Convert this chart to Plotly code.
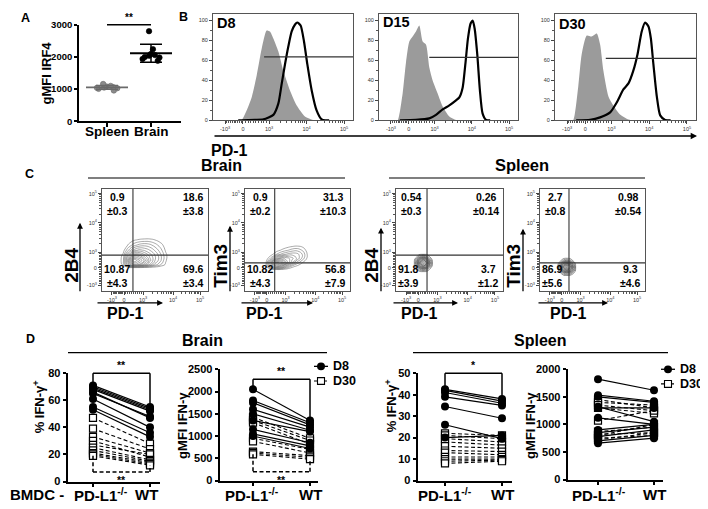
import math
import plotly.graph_objects as go

# The page body adds an 8 px margin; the figure is sized so that the
# photographed 708x509 window shows the chart in the reference's pixel frame.
W, H = 708, 509
OFF = 8
WF, HF = W - OFF, H - OFF
FONT = "Liberation Sans, Arial, Helvetica, sans-serif"

# ======================= DATA =======================
# ---- Panel A: gMFI IRF4 ----
a_groups = ["Spleen", "Brain"]
irf4_spleen = [1160, 1100, 1080, 1060, 1050, 1040, 1030, 1010, 960]
irf4_brain = [2800, 2240, 2090, 2060, 2040, 2000, 1980, 1940, 1880]
a_ticks = [0, 1000, 2000, 3000]

# ---- Panel B: PD-1 histograms (display channel 0-1000, % of max) ----
b_days = ["D8", "D15", "D30"]
flow_tick_text = ["-10<sup>3</sup>", "0", "10<sup>3</sup>", "10<sup>4</sup>", "10<sup>5</sup>"]
hist_ticks = [0, 20, 40, 60, 80, 100]

iso_d8_ch = [180, 205, 240, 276, 312, 348, 383, 407, 431, 467, 502, 550, 598, 657, 714, 740]
iso_d8_pct = [0, 0.5, 10, 23, 45, 72, 90, 89, 82, 69, 50, 30, 15, 4, 0.5, 0]
pd1_d8_ch = [180, 205, 300, 360, 431, 467, 490, 514, 538, 562, 586, 602, 626, 650, 674, 705, 740, 776, 800, 830]
pd1_d8_pct = [0, 0, 0.5, 1, 5.5, 17, 36, 56, 74, 89, 96, 98, 95, 79, 56, 30, 10, 1, 0, 0]

iso_d15_ch = [120, 136, 170, 194, 218, 242, 266, 290, 314, 338, 362, 386, 422, 458, 506, 554, 580]
iso_d15_pct = [0, 0.5, 27, 58, 79, 84, 89, 95, 79, 76, 53, 40, 27, 14, 4, 0.5, 0]
pd1_d15_ch = [150, 266, 362, 410, 458, 506, 554, 578, 602, 621, 640, 659, 674, 688, 707, 726, 745, 770, 800]
pd1_d15_pct = [0, 0.5, 2, 5.5, 11, 15, 20, 23, 33, 56, 82, 97, 100, 92, 66, 30, 7, 0.5, 0]

iso_d30_ch = [110, 130, 165, 189, 225, 260, 296, 320, 343, 379, 414, 461, 521, 560]
iso_d30_pct = [0, 0.5, 34, 66, 85, 84, 87, 76, 50, 24, 15, 6, 1, 0]
pd1_d30_ch = [150, 249, 320, 391, 438, 485, 521, 556, 585, 615, 639, 663, 680, 698, 722, 746, 781, 820]
pd1_d30_pct = [0, 0.5, 3, 8, 18, 31, 37, 50, 66, 89, 98, 94, 82, 56, 24, 5, 0.5, 0]

gate_start = [365, 362, 360]
gate_level = [63.5, 63, 62]

# ---- Panel C: contour density grids (display channels) ----
brain_2b4_x = [150, 200, 250, 300, 350, 400, 450, 500, 550, 600, 650]
brain_2b4_y = [200, 230, 260, 300, 350, 400, 450, 500, 540]
brain_2b4_z = [
    [0, 0, 0, 0, 0, 0, 0, 0, 0, 0, 0],
    [0, 0, 0.3, 0.5, 0.5, 0.4, 0.3, 0.2, 0, 0, 0],
    [0, 0.8, 4, 7, 6.5, 5, 3.5, 2.2, 1.3, 0.5, 0],
    [0, 1, 5, 9, 8, 6.5, 4.5, 3, 2, 0.7, 0],
    [0, 0.8, 3.5, 6, 6, 5, 4, 3, 2, 0.8, 0],
    [0, 0.3, 1.8, 3.2, 3.8, 3.5, 3, 2.3, 1.5, 0.5, 0],
    [0, 0, 0.7, 1.5, 2, 2.2, 2, 1.5, 0.9, 0.3, 0],
    [0, 0, 0.2, 0.5, 0.7, 0.8, 0.8, 0.6, 0.3, 0, 0],
    [0, 0, 0, 0, 0, 0, 0, 0, 0, 0, 0],
]
brain_tim3_x = [150, 200, 250, 300, 350, 400, 450, 500, 550, 600, 650]
brain_tim3_y = [180, 210, 240, 280, 320, 360, 400, 440, 480]
brain_tim3_z = [
    [0, 0, 0, 0, 0, 0, 0, 0, 0, 0, 0],
    [0, 0, 0.2, 0.4, 0.3, 0.1, 0, 0, 0, 0, 0],
    [0, 0.3, 2.5, 5, 4, 2, 0.8, 0.3, 0, 0, 0],
    [0, 0.5, 4, 8, 7.5, 5, 3, 1.5, 0.6, 0, 0],
    [0, 0.1, 1.5, 4, 5, 4.5, 3.8, 2.8, 1.5, 0.3, 0],
    [0, 0, 0.3, 1.2, 2, 2.5, 2.8, 2.6, 1.7, 0.4, 0],
    [0, 0, 0, 0.3, 0.7, 1.1, 1.5, 1.6, 1.1, 0.2, 0],
    [0, 0, 0, 0, 0.1, 0.3, 0.5, 0.6, 0.4, 0, 0],
    [0, 0, 0, 0, 0, 0, 0, 0, 0, 0, 0],
]
spleen_2b4_x = [165, 195, 225, 255, 285, 315, 345]
spleen_2b4_y = [186, 216, 246, 276, 306, 336, 366]
spleen_2b4_z = [
    [0, 0, 0.3, 0.4, 0.3, 0, 0],
    [0, 0.6, 2, 3, 2, 0.6, 0],
    [0.2, 2, 5, 7, 5, 2, 0.2],
    [0.3, 3, 7, 9, 7, 3, 0.3],
    [0.2, 2, 5, 7, 5, 2, 0.2],
    [0, 0.6, 2, 3, 2, 0.6, 0],
    [0, 0, 0.3, 0.4, 0.3, 0, 0],
]
spleen_tim3_x = [165, 195, 225, 255, 285, 315, 345]
spleen_tim3_y = [148, 178, 208, 238, 268, 298, 328]
spleen_tim3_z = [
    [0, 0, 0.2, 0.3, 0.2, 0, 0],
    [0, 0.5, 1.8, 2.6, 2, 0.8, 0],
    [0.2, 2, 5, 6.5, 5, 2.5, 0.3],
    [0.3, 3, 7, 9, 7.5, 3.5, 0.4],
    [0.2, 1.8, 4.5, 6, 4.5, 2, 0.2],
    [0, 0.4, 1.5, 2.2, 1.5, 0.5, 0],
    [0, 0, 0.2, 0.3, 0.2, 0, 0],
]
# quadrant gates (x channel, y channel)
gate_brain_2b4 = [292, 352]
gate_brain_tim3 = [283, 276]
gate_spleen_2b4 = [290, 352]
gate_spleen_tim3 = [276, 276]
# quadrant percentages: UL, UR, LL, LR
quad_brain_2b4 = ["0.9<br>±0.3", "18.6<br>±3.8", "10.87<br>±4.3", "69.6<br>±3.4"]
quad_brain_tim3 = ["0.9<br>±0.2", "31.3<br>±10.3", "10.82<br>±4.3", "56.8<br>±7.9"]
quad_spleen_2b4 = ["0.54<br>±0.3", "0.26<br>±0.14", "91.8<br>±3.9", "3.7<br>±1.2"]
quad_spleen_tim3 = ["2.7<br>±0.8", "0.98<br>±0.54", "86.9<br>±5.6", "9.3<br>±4.6"]

# ---- Panel D: paired IFN-gamma data (PD-L1-/- BMDC vs WT BMDC) ----
d_groups = ["PD-L1<sup>-/-</sup>", "WT"]
brain_pct_d8_pdl1 = [71, 70, 69, 68, 66, 65, 61, 55, 53]
brain_pct_d8_wt = [55, 54, 53, 52, 47, 48, 40, 36, 33]
brain_pct_d30_pdl1 = [47, 39, 33, 30, 27, 25, 23, 21, 20, 19]
brain_pct_d30_wt = [28, 24, 21, 18, 20, 16, 15, 14, 13, 12]

brain_mfi_d8_pdl1 = [2050, 1800, 1750, 1600, 1500, 1350, 1150, 1050, 1000]
brain_mfi_d8_wt = [1350, 1300, 1250, 1200, 1130, 1100, 850, 780, 720]
brain_mfi_d30_pdl1 = [1420, 1350, 1300, 950, 880, 650, 620, 590]
brain_mfi_d30_wt = [950, 900, 820, 700, 620, 560, 520, 480]

spleen_pct_d8_pdl1 = [42.5, 42, 41, 39, 34.5, 26, 20]
spleen_pct_d8_wt = [38, 37, 36, 35, 29, 19.5, 21]
spleen_pct_d30_pdl1 = [22, 21, 19.5, 18, 16, 14, 13, 11, 10, 9, 8]
spleen_pct_d30_wt = [21, 19.5, 18, 16.5, 15, 13.5, 12, 11, 10, 9.5, 9]

spleen_mfi_d8_pdl1 = [1820, 1530, 1500, 1320, 1300, 1120, 900, 850, 780, 700, 660]
spleen_mfi_d8_wt = [1620, 1420, 1400, 1050, 1300, 1000, 1000, 950, 900, 800, 750]
spleen_mfi_d30_pdl1 = [1450, 1400, 1350, 1300, 1070, 870, 820, 800, 750, 720]
spleen_mfi_d30_wt = [1300, 1350, 1250, 1200, 1250, 950, 850, 1000, 800, 850]

# ======================= HELPERS =======================
fig = go.Figure()
shapes = []
annotations = []
axes = {}


def px(x):
    return (x - OFF) / WF


def py(y):
    return 1 - (y - OFF) / HF


def dx(a, b):
    return [px(a), px(b)]


def dy(top, bot):
    return [py(bot), py(top)]


def refs(n):
    s = "" if n == 1 else str(n)
    return "xaxis" + s, "yaxis" + s, "x" + s, "y" + s


def bfont(size, color="black", bold=True):
    return dict(family=FONT, size=size, color=color, weight="bold" if bold else "normal")


def text(x, y, s, size, angle=0, xanchor="center", yanchor="middle", bold=True):
    annotations.append(dict(x=px(x), y=py(y), xref="paper", yref="paper", text=s,
                            showarrow=False, textangle=angle, xanchor=xanchor,
                            yanchor=yanchor, font=bfont(size, bold=bold)))


def pline(x0, y0, x1, y1, width=1.2, color="black", dash="solid"):
    shapes.append(dict(type="line", xref="paper", yref="paper", x0=px(x0), y0=py(y0),
                       x1=px(x1), y1=py(y1), line=dict(width=width, color=color, dash=dash)))


def arrow(xh, yh, xt, yt, width=1.3):
    annotations.append(dict(x=px(xh), y=py(yh), xref="paper", yref="paper",
                            ax=xt - xh, ay=yt - yh, text="", showarrow=True,
                            arrowhead=2, arrowsize=0.9, arrowwidth=width,
                            arrowcolor="black", standoff=0, startstandoff=0))


def frac(v, rng):
    return (v - rng[0]) / (rng[1] - rng[0])


def flow_minor(neg, zero, p3, p4, p5):
    vals = []
    for k in range(1, 10):
        vals.append(neg + (zero - neg) * k / 10)
        vals.append(zero + (p3 - zero) * k / 10)
    for m in range(2, 10):
        vals.append(p3 + (p4 - p3) * math.log10(m))
        vals.append(p4 + (p5 - p4) * math.log10(m))
    return vals


def cat_axis(l, r, c0, c1, yref):
    u = c1 - c0
    rng = [-(c0 - l) / u, 1 + (r - c1) / u]
    return dict(domain=dx(l, r), range=rng, anchor=yref, tickmode="array", tickvals=[0, 1],
                showticklabels=False, showline=True, linecolor="black", linewidth=1.7,
                ticks="outside", ticklen=4, tickwidth=1.5, tickcolor="black",
                showgrid=False, zeroline=False, fixedrange=True)


def val_axis(top, bot, rng, tickvals, size, xref, ticklen=4):
    return dict(domain=dy(top, bot), range=rng, anchor=xref, tickmode="array",
                tickvals=tickvals, ticktext=[str(t) for t in tickvals], showline=True,
                linecolor="black", linewidth=1.7, ticks="outside", ticklen=ticklen,
                tickwidth=1.5, tickcolor="black", showgrid=False, zeroline=False,
                tickfont=bfont(size), fixedrange=True)


def flow_axis(dom, rng, tickvals, ticktext, minor_vals, anchor):
    return dict(domain=dom, range=rng, anchor=anchor, tickmode="array", tickvals=tickvals,
                ticktext=ticktext, showline=True, mirror=True, linecolor="#555",
                linewidth=1, ticks="outside", ticklen=3, tickwidth=0.8, tickcolor="#444",
                showgrid=False, zeroline=False, tickangle=0,
                tickfont=dict(family=FONT, size=5.5, color="#333"),
                minor=dict(tickmode="array", tickvals=minor_vals, ticks="outside",
                           ticklen=1.8, tickwidth=0.6, tickcolor="#555"),
                fixedrange=True)


def mean_sd(v):
    m = sum(v) / len(v)
    sd = math.sqrt(sum((x - m) ** 2 for x in v) / (len(v) - 1))
    return m, sd


# ======================= PANEL A =======================
a_cats_px = (107, 151)
xa, ya, xr, yr = refs(1)
axes[xa] = cat_axis(79, 181, a_cats_px[0], a_cats_px[1], yr)
axes[ya] = val_axis(19, 118, [0, 3000], a_ticks, 9.5, xr, ticklen=3)

for i, (vals, col, lc) in enumerate([(irf4_spleen, "#8c8c8c", "#6a6a6a"),
                                     (irf4_brain, "black", "black")]):
    fig.add_trace(go.Box(y=vals, x0=i, boxpoints="all", jitter=1, pointpos=0, width=0.6,
                         marker=dict(color=col, size=5.5, line=dict(color=lc, width=0.6)),
                         line=dict(width=0, color="rgba(0,0,0,0)"),
                         fillcolor="rgba(0,0,0,0)", xaxis=xr, yaxis=yr, hoverinfo="skip"))
    m, sd = mean_sd(vals)
    fig.add_trace(go.Scatter(x=[i], y=[m], mode="markers",
                             marker=dict(symbol="line-ew", size=30, color=lc,
                                         line=dict(width=1.8, color=lc)),
                             error_y=dict(type="data", array=[sd], visible=True, width=11,
                                          thickness=1.5, color=lc),
                             xaxis=xr, yaxis=yr, hoverinfo="skip"))

pline(a_cats_px[0], 19, a_cats_px[1], 19, width=1.4)
text((a_cats_px[0] + a_cats_px[1]) / 2, 19, "**", 10, yanchor="bottom")
for cpx, g in zip(a_cats_px, a_groups):
    text(cpx, 128, g, 13.5)
text(47, 69, "gMFI IRF4", 13, angle=-90)
text(25, 12, "A", 12.5)

# ======================= PANEL B =======================
b_frames = [(213, 353), (379, 518), (555, 696)]
b_tickpos = [86, 214, 400, 668, 936]
b_minor = flow_minor(*b_tickpos)
b_iso = [(iso_d8_ch, iso_d8_pct), (iso_d15_ch, iso_d15_pct), (iso_d30_ch, iso_d30_pct)]
b_pd1 = [(pd1_d8_ch, pd1_d8_pct), (pd1_d15_ch, pd1_d15_pct), (pd1_d30_ch, pd1_d30_pct)]
b_label_pos = [(215, 17), (381, 16), (557, 18)]
for i in range(3):
    n = 2 + i
    xa, ya, xr, yr = refs(n)
    l, r = b_frames[i]
    axes[xa] = flow_axis(dx(l, r), [0, 1000], b_tickpos, flow_tick_text, b_minor, yr)
    axes[ya] = flow_axis(dy(8, 117), [0, 106.5], hist_ticks, [str(t) for t in hist_ticks],
                         [10, 30, 50, 70, 90], xr)
    cx, cy = b_iso[i]
    fig.add_trace(go.Scatter(x=cx, y=cy, mode="lines", fill="tozeroy", fillcolor="#9b9b9b",
                             line=dict(width=0, color="#9b9b9b", shape="spline", smoothing=0.6),
                             xaxis=xr, yaxis=yr, hoverinfo="skip"))
    cx, cy = b_pd1[i]
    fig.add_trace(go.Scatter(x=cx, y=cy, mode="lines",
                             line=dict(width=2.2, color="black", shape="spline", smoothing=0.6),
                             xaxis=xr, yaxis=yr, hoverinfo="skip"))
    shapes.append(dict(type="line", xref=xr, yref=yr, x0=gate_start[i], x1=1000,
                       y0=gate_level[i], y1=gate_level[i], line=dict(color="#333", width=1.2)))
    text(b_label_pos[i][0], b_label_pos[i][1], b_days[i], 14.5, xanchor="left")

arrow(697, 133, 213, 133, width=1.4)
text(230, 148, "PD-1", 16)
text(183, 11, "B", 12.5)

# ======================= PANEL C =======================
c_xt = [94, 208, 387, 670, 925]
c_yt = [57, 229, 381, 667, 952]
c_xminor = flow_minor(*c_xt)
c_yminor = flow_minor(*c_yt)
c_specs = [
    dict(l=102, r=208, grid=(brain_2b4_x, brain_2b4_y, brain_2b4_z), gate=gate_brain_2b4,
         quad=quad_brain_2b4, col="#6e6e6e", lab="2B4", lab_x=72, arr_x=80, arr_top=222,
         harr=(96, 163), pd_x=125),
    dict(l=245, r=350, grid=(brain_tim3_x, brain_tim3_y, brain_tim3_z), gate=gate_brain_tim3,
         quad=quad_brain_tim3, col="#6e6e6e", lab="Tim3", lab_x=221, arr_x=230, arr_top=225,
         harr=(240, 313), pd_x=264),
    dict(l=396, r=503, grid=(spleen_2b4_x, spleen_2b4_y, spleen_2b4_z), gate=gate_spleen_2b4,
         quad=quad_spleen_2b4, col="#444444", lab="2B4", lab_x=372, arr_x=381, arr_top=227,
         harr=(392, 458), pd_x=420),
    dict(l=540, r=645, grid=(spleen_tim3_x, spleen_tim3_y, spleen_tim3_z), gate=gate_spleen_tim3,
         quad=quad_spleen_tim3, col="#444444", lab="Tim3", lab_x=514, arr_x=523, arr_top=228,
         harr=(537, 608), pd_x=568),
]
for i, s in enumerate(c_specs):
    n = 5 + i
    xa, ya, xr, yr = refs(n)
    axes[xa] = flow_axis(dx(s["l"], s["r"]), [0, 1000], c_xt, flow_tick_text, c_xminor, yr)
    axes[ya] = flow_axis(dy(187, 292), [0, 1000], c_yt, flow_tick_text, c_yminor, xr)
    gx, gy, gz = s["grid"]
    fig.add_trace(go.Contour(x=gx, y=gy, z=gz, xaxis=xr, yaxis=yr, showscale=False,
                             contours=dict(coloring="lines", start=0.6, end=9.0, size=0.6),
                             colorscale=[[0, s["col"]], [1, s["col"]]],
                             line=dict(width=0.6, smoothing=1.3), hoverinfo="skip"))
    qx, qy = s["gate"]
    shapes.append(dict(type="line", xref=xr, yref=yr, x0=qx, x1=qx, y0=0, y1=1000,
                       line=dict(color="#333", width=1.1)))
    shapes.append(dict(type="line", xref=xr, yref=yr, x0=0, x1=1000, y0=qy, y1=qy,
                       line=dict(color="#333", width=1.1)))
    pos = [(0.04, 0.985, "left", "top"), (0.975, 0.985, "right", "top"),
           (0.01, 0.015, "left", "bottom"), (0.975, 0.015, "right", "bottom")]
    for t, (qxp, qyp, xan, yan) in zip(s["quad"], pos):
        annotations.append(dict(xref=xr + " domain", yref=yr + " domain", x=qxp, y=qyp,
                                xanchor=xan, yanchor=yan, align="center", text=t,
                                showarrow=False, font=bfont(10.5), borderpad=0))
    text(s["lab_x"], 266, s["lab"], 19, angle=-90)
    arrow(s["arr_x"], s["arr_top"], s["arr_x"], 292, width=1.3)
    arrow(s["harr"][1], 304, s["harr"][0], 304, width=1.3)
    text(s["pd_x"], 315, "PD-1", 16)

text(221, 163, "Brain", 16)
pline(88, 176, 345, 176, width=1.2)
text(522, 163, "Spleen", 16.5)
pline(389, 176, 645, 176, width=1.2)
text(29, 172, "C", 12.5)

# ======================= PANEL D =======================
d_specs = [
    dict(dom=(68, 160), cats=(93, 150), lab_px=(101, 146), top=376, bot=487, rng=[0, 80],
         ticks=[0, 20, 40, 60, 80],
         d8=(brain_pct_d8_pdl1, brain_pct_d8_wt), d30=(brain_pct_d30_pdl1, brain_pct_d30_wt),
         title="% IFN-γ<sup>+</sup>", title_x=39, title_y=410, top_br=80, bot_br=7, star="**"),
    dict(dom=(220, 318), cats=(253, 310), lab_px=(252, 310), top=372, bot=486, rng=[0, 2500],
         ticks=[0, 500, 1000, 1500, 2000, 2500],
         d8=(brain_mfi_d8_pdl1, brain_mfi_d8_wt), d30=(brain_mfi_d30_pdl1, brain_mfi_d30_wt),
         title="gMFI IFN-γ", title_x=183, title_y=430, top_br=2275, bot_br=200, star="**",
         legend=(321, 369, 384)),
    dict(dom=(418, 512), cats=(445, 502), lab_px=(445, 502), top=376, bot=486, rng=[0, 50],
         ticks=[0, 10, 20, 30, 40, 50],
         d8=(spleen_pct_d8_pdl1, spleen_pct_d8_wt), d30=(spleen_pct_d30_pdl1, spleen_pct_d30_wt),
         title="% IFN-γ<sup>+</sup>", title_x=391, title_y=410, top_br=50, bot_br=None, star="*"),
    dict(dom=(568, 663), cats=(598, 654), lab_px=(599, 654), top=372, bot=485, rng=[0, 2000],
         ticks=[0, 500, 1000, 1500, 2000],
         d8=(spleen_mfi_d8_pdl1, spleen_mfi_d8_wt), d30=(spleen_mfi_d30_pdl1, spleen_mfi_d30_wt),
         title="gMFI IFN-γ", title_x=531, title_y=430, top_br=None, bot_br=None, star=None,
         legend=(668, 372, 387)),
]


def pairs_xy(left, right):
    xs, ys = [], []
    for a, b in zip(left, right):
        xs += [0, 1, None]
        ys += [a, b, None]
    return xs, ys


for i, s in enumerate(d_specs):
    n = 9 + i
    xa, ya, xr, yr = refs(n)
    axes[xa] = cat_axis(s["dom"][0], s["dom"][1], s["cats"][0], s["cats"][1], yr)
    axes[ya] = val_axis(s["top"], s["bot"], s["rng"], s["ticks"], 11, xr, ticklen=3.5)
    lx, ly = pairs_xy(*s["d30"])
    fig.add_trace(go.Scatter(x=lx, y=ly, mode="lines", xaxis=xr, yaxis=yr,
                             line=dict(color="black", width=1.1, dash="4px,2.5px"),
                             hoverinfo="skip", connectgaps=False))
    lx, ly = pairs_xy(*s["d8"])
    fig.add_trace(go.Scatter(x=lx, y=ly, mode="lines", xaxis=xr, yaxis=yr,
                             line=dict(color="black", width=1.2), hoverinfo="skip",
                             connectgaps=False))
    l30, r30 = s["d30"]
    fig.add_trace(go.Scatter(x=[0] * len(l30) + [1] * len(r30), y=list(l30) + list(r30),
                             mode="markers", xaxis=xr, yaxis=yr, cliponaxis=False,
                             marker=dict(symbol="square", size=7, color="white",
                                         line=dict(color="black", width=1.2)),
                             hoverinfo="skip"))
    l8, r8 = s["d8"]
    fig.add_trace(go.Scatter(x=[0] * len(l8) + [1] * len(r8), y=list(l8) + list(r8),
                             mode="markers", xaxis=xr, yaxis=yr, cliponaxis=False,
                             marker=dict(symbol="circle", size=8, color="black"),
                             hoverinfo="skip"))
    rx, ry = axes[xa]["range"], s["rng"]
    span = ry[1] - ry[0]
    xdr, ydr = xr + " domain", yr + " domain"
    c0, c1 = s["cats"]

    def vpx(v):
        return s["bot"] - frac(v, ry) * (s["bot"] - s["top"])

    def seg(x0, y0, x1, y1, dash="solid"):
        shapes.append(dict(type="line", xref=xdr, yref=ydr, x0=frac(x0, rx), x1=frac(x1, rx),
                           y0=frac(y0, ry), y1=frac(y1, ry),
                           line=dict(color="black", width=1.5, dash=dash)))

    all_l = list(l8) + list(l30)
    all_r = list(r8) + list(r30)
    if s["top_br"] is not None:
        t = s["top_br"]
        pad = 0.03 * span
        seg(0, max(all_l) + pad, 0, t)
        seg(0, t, 1, t)
        seg(1, t, 1, max(all_r) + pad)
        text((c0 + c1) / 2, vpx(t), s["star"], 10.5, yanchor="bottom")
    if s["bot_br"] is not None:
        b = s["bot_br"]
        seg(0, min(all_l), 0, b, dash="4px,2.5px")
        seg(0, b, 1, b, dash="4px,2.5px")
        seg(1, b, 1, min(all_r), dash="4px,2.5px")
        text((c0 + c1) / 2, vpx(b), s["star"], 10.5, yanchor="top")
    for cpx, g in zip(s["lab_px"], d_groups):
        text(cpx, 500, g, 15)
    text(s["title_x"], s["title_y"], s["title"], 13, angle=-90)
    if "legend" in s:
        lxp, y8, y30 = s["legend"]
        pline(lxp - 7, y8, lxp + 7, y8, width=1.3)
        shapes.append(dict(type="circle", xref="paper", yref="paper", x0=px(lxp - 4),
                           x1=px(lxp + 4), y0=py(y8 + 4), y1=py(y8 - 4),
                           fillcolor="black", line=dict(width=0)))
        pline(lxp - 7, y30, lxp + 7, y30, width=1.1, dash="3px,2px")
        shapes.append(dict(type="rect", xref="paper", yref="paper", x0=px(lxp - 3.5),
                           x1=px(lxp + 3.5), y0=py(y30 + 3.5), y1=py(y30 - 3.5),
                           fillcolor="white", line=dict(width=1.1, color="black")))
        text(lxp + 10, y8, "D8", 12.5, xanchor="left")
        text(lxp + 10, y30, "D30", 12.5, xanchor="left")

text(202, 343, "Brain", 16)
pline(68, 355, 327, 355, width=1.2)
text(540, 343, "Spleen", 16)
pline(413, 355, 668, 355, width=1.2)
text(30, 341, "D", 12.5)
text(37, 500, "BMDC -", 15)

# ======================= LAYOUT =======================
fig.update_layout(width=WF, height=HF, margin=dict(l=0, r=0, t=0, b=0),
                  paper_bgcolor="white", plot_bgcolor="rgba(0,0,0,0)", showlegend=False,
                  boxmode="overlay", font=dict(family=FONT, color="black"),
                  shapes=shapes, annotations=annotations, **axes)

fig.write_html("out.html")
